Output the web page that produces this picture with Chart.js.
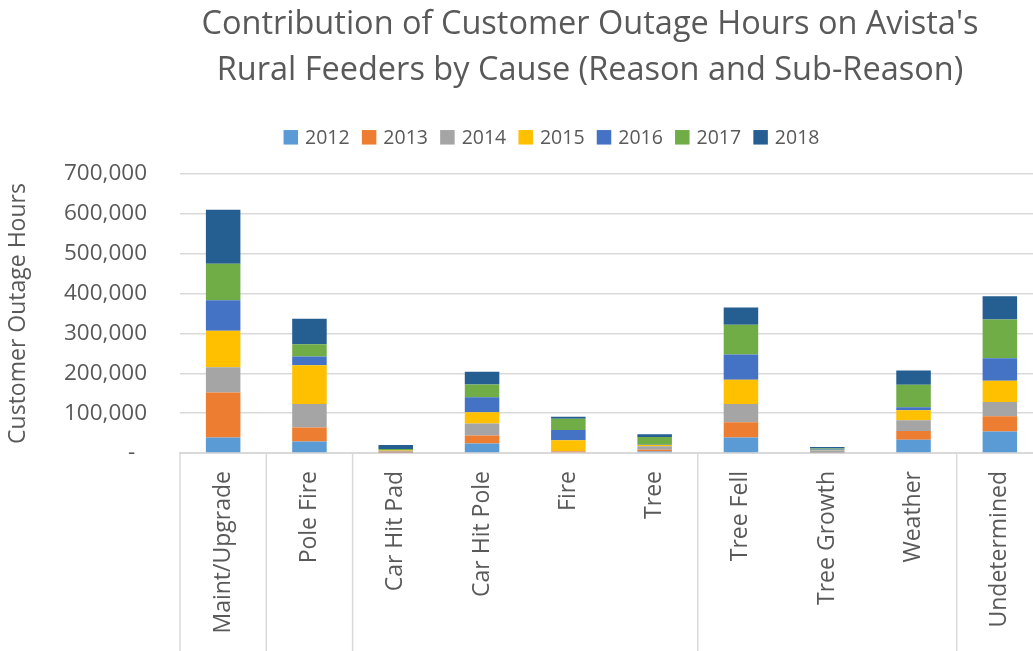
<!DOCTYPE html>
<html>
<head>
<meta charset="utf-8">
<script src="https://cdn.jsdelivr.net/npm/chart.js@4.4.1/dist/chart.umd.min.js"></script>
<style>
  html, body { margin: 0; padding: 0; background: #ffffff; overflow: hidden; }
  #wrap { position: relative; width: 1043px; height: 651px; }
</style>
</head>
<body>
<div id="wrap"><canvas id="c"></canvas></div>
<script>
// ---- Data ----
const titleLines = ["Contribution of Customer Outage Hours on Avista's", "Rural Feeders by Cause (Reason and Sub-Reason)"];
const yAxisTitle = "Customer Outage Hours";
const categories = ["Maint/Upgrade", "Pole Fire", "Car Hit Pad", "Car Hit Pole", "Fire", "Tree", "Tree Fell", "Tree Growth", "Weather", "Undetermined"];
const groupBreaks = [0, 1, 2, 6, 9, 10];
const seriesNames = ["2012", "2013", "2014", "2015", "2016", "2017", "2018"];
const seriesColors = ["#5B9BD5", "#ED7D31", "#A5A5A5", "#FFC000", "#4472C4", "#70AD47", "#255E91"];
const v2012 = [39000, 29000, 1000, 24000, 0, 4000, 39000, 1000, 33000, 54000];
const v2013 = [113000, 35000, 2000, 20000, 4000, 4000, 38000, 1000, 22000, 38000];
const v2014 = [63000, 59000, 2000, 30000, 1000, 9000, 46000, 4000, 27000, 36000];
const v2015 = [92000, 97000, 1000, 28000, 27000, 3000, 61000, 1000, 25000, 53000];
const v2016 = [76000, 22000, 1000, 38000, 26000, 1000, 63000, 2000, 8000, 57000];
const v2017 = [92000, 31000, 3000, 32000, 28000, 19000, 75000, 2000, 56000, 97000];
const v2018 = [135000, 64000, 10000, 32000, 5000, 7000, 43000, 4000, 36000, 58000];
const seriesValues = [v2012, v2013, v2014, v2015, v2016, v2017, v2018];
const yMax = 700000, yStep = 100000;

const FONT = "'Open Sans', 'DejaVu Sans', sans-serif";
const TEXT = "#595959";
const GRID = "#d9d9d9";

const titleLegendPlugin = {
  id: 'titleLegend',
  afterDraw(chart) {
    const ctx = chart.ctx;
    ctx.save();
    // Title
    ctx.fillStyle = TEXT;
    ctx.font = "32.5px " + FONT;
    ctx.textAlign = 'center';
    ctx.textBaseline = 'alphabetic';
    ctx.fillText(titleLines[0], 590, 33.5);
    ctx.fillText(titleLines[1], 590, 79.5);
    // Legend
    ctx.font = "19.5px " + FONT;
    const box = 14.5, gapBT = 7, gapItem = 12.2;
    const items = chart.data.datasets.map(d => ({ text: d.label, color: d.backgroundColor, w: ctx.measureText(d.label).width }));
    let total = 0;
    items.forEach((it, i) => { total += box + gapBT + it.w + (i < items.length - 1 ? gapItem : 0); });
    let x = 551.5 - total / 2;
    const cy = 137.3;
    ctx.textAlign = 'left';
    ctx.textBaseline = 'middle';
    items.forEach(it => {
      ctx.fillStyle = it.color;
      ctx.fillRect(x, cy - box / 2, box, box);
      x += box + gapBT;
      ctx.fillStyle = TEXT;
      ctx.fillText(it.text, x, cy + 1);
      x += it.w + gapItem;
    });
    // Category group separators below the axis
    const xs = chart.scales.x;
    const n = categories.length;
    const catW = xs.width / n;
    ctx.strokeStyle = GRID;
    ctx.lineWidth = 1.5;
    groupBreaks.forEach(b => {
      const px = xs.left + b * catW;
      ctx.beginPath();
      ctx.moveTo(px, xs.top);
      ctx.lineTo(px, chart.height);
      ctx.stroke();
    });
    ctx.restore();
  }
};

new Chart(document.getElementById('c'), {
  type: 'bar',
  data: {
    labels: categories,
    datasets: seriesNames.map((name, i) => ({
      label: name,
      data: seriesValues[i],
      backgroundColor: seriesColors[i],
      borderWidth: 0,
      barPercentage: 0.40,
      categoryPercentage: 1.0
    }))
  },
  options: {
    responsive: true,
    maintainAspectRatio: false,
    animation: false,
    layout: { padding: { top: 174, left: 0, right: 0, bottom: 0 } },
    plugins: {
      legend: { display: false },
      title: { display: false },
      tooltip: { enabled: false }
    },
    scales: {
      x: {
        stacked: true,
        grid: { display: false },
        border: { display: true, color: GRID, width: 2 },
        ticks: {
          autoSkip: false,
          minRotation: 90,
          maxRotation: 90,
          padding: 10,
          color: TEXT,
          font: { family: FONT, size: 23 }
        },
        afterFit(axis) { axis.height = 198; }
      },
      y: {
        stacked: true,
        min: 0,
        max: yMax,
        border: { display: false },
        grid: { color: GRID, lineWidth: 1.5, drawTicks: false },
        ticks: {
          stepSize: yStep,
          padding: 33,
          color: TEXT,
          font: { family: FONT, size: 22.5 },
          callback: (v) => v === 0 ? '-  ' : v.toLocaleString('en-US')
        },
        title: {
          display: true,
          text: yAxisTitle,
          color: TEXT,
          font: { family: FONT, size: 23 },
          padding: { top: 5, bottom: 0 }
        },
        afterFit(axis) { axis.width = 180; }
      }
    }
  },
  plugins: [titleLegendPlugin]
});
</script>
</body>
</html>
